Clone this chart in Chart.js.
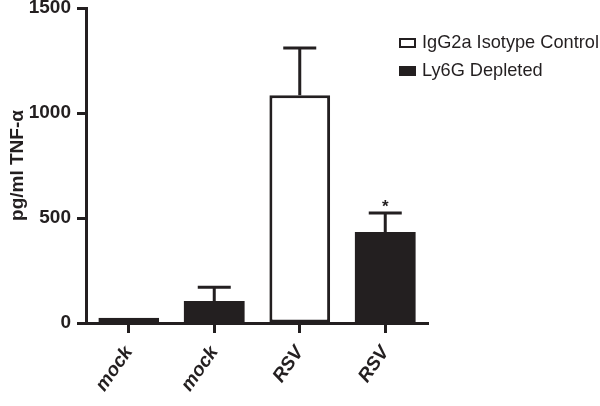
<!DOCTYPE html>
<html lang="en">
<head>
    <meta charset="UTF-8">
    <title>TNF-alpha</title>
    <script src="https://cdn.jsdelivr.net/npm/chart.js@4.4.1/dist/chart.umd.min.js"></script>
    <style>
        html, body { margin: 0; padding: 0; background: #fff; }
        #wrap { width: 600px; height: 406px; position: relative; }
    </style>
</head>
<body>
<div id="wrap"><canvas id="chart"></canvas></div>
<script>
    // data
    const groups = ["mock", "mock", "RSV", "RSV"];
    const isotype = [25, null, 1085, null];
    const depleted = [null, 105, null, 433];
    const isotypeErr = [null, null, 1310, null];   // top of the error bar
    const depletedErr = [null, 170, null, 524];
    const starred = [false, false, false, true];
    const yTicks = [0, 500, 1000, 1500];

    const FONT = "'Liberation Sans', Arial, sans-serif";
    const INK = "#231f20";

    // error bars + asterisk
    const errorBars = {
        id: "errorBars",
        afterDatasetsDraw(chart) {
            const c = chart.ctx;
            const y = chart.scales.y;
            c.save();
            c.strokeStyle = INK;
            c.lineWidth = 3;
            [[0, isotypeErr], [1, depletedErr]].forEach(([di, errs]) => {
                const meta = chart.getDatasetMeta(di);
                errs.forEach((e, i) => {
                    if (e == null) return;
                    const bar = meta.data[i];
                    const yTop = y.getPixelForValue(e);
                    c.beginPath();
                    c.moveTo(bar.x, bar.y);
                    c.lineTo(bar.x, yTop);
                    c.moveTo(bar.x - 16.5, yTop);
                    c.lineTo(bar.x + 16.5, yTop);
                    c.stroke();
                    if (starred[i]) {
                        c.fillStyle = INK;
                        c.font = "bold 17px " + FONT;
                        c.textAlign = "center";
                        c.textBaseline = "bottom";
                        c.fillText("*", bar.x, yTop + 3);
                    }
                });
            });
            c.restore();
        }
    };

    // legend in the top-right corner
    const sideLegend = {
        id: "sideLegend",
        afterDraw(chart) {
            const c = chart.ctx;
            c.save();
            const rows = [["IgG2a Isotype Control", "#ffffff"], ["Ly6G Depleted", INK]];
            rows.forEach(([txt, fill], k) => {
                const cy = 43 + k * 28;
                c.fillStyle = fill;
                c.fillRect(399, cy - 5, 17, 10);
                c.strokeStyle = INK;
                c.lineWidth = 2;
                c.strokeRect(400, cy - 4, 15, 8);
                c.fillStyle = INK;
                c.font = "18.2px " + FONT;
                c.textAlign = "left";
                c.textBaseline = "middle";
                c.fillText(txt, 422, cy);
            });
            c.restore();
        }
    };

    new Chart(document.getElementById("chart"), {
        type: "bar",
        data: {
            labels: groups,
            datasets: [
                {
                    label: "IgG2a Isotype Control",
                    data: isotype,
                    backgroundColor: "#ffffff",
                    borderColor: INK,
                    borderWidth: 3,
                    borderSkipped: false
                },
                {
                    label: "Ly6G Depleted",
                    data: depleted,
                    backgroundColor: INK,
                    borderColor: INK,
                    borderWidth: 0
                }
            ]
        },
        options: {
            responsive: true,
            maintainAspectRatio: false,
            animation: false,
            layout: { padding: { top: 0, right: 172, left: 0, bottom: 0 } },
            datasets: { bar: { grouped: false, categoryPercentage: 1, barPercentage: 0.71 } },
            plugins: {
                legend: { display: false },
                tooltip: { enabled: false }
            },
            scales: {
                x: {
                    grid: { offset: false, drawOnChartArea: false, tickLength: 10, tickWidth: 3, tickColor: INK },
                    border: { color: INK, width: 3 },
                    ticks: {
                        color: INK,
                        maxRotation: 55,
                        minRotation: 55,
                        padding: 9,
                        font: { family: FONT, size: 19, weight: "bold", style: "italic" }
                    },
                    afterFit(s) { s.height = 83; }
                },
                y: {
                    min: 0,
                    max: 1500,
                    afterBuildTicks(s) { s.ticks = yTicks.map(v => ({ value: v })); },
                    grid: { drawOnChartArea: false, tickLength: 9, tickWidth: 3, tickColor: INK },
                    border: { color: INK, width: 3 },
                    ticks: {
                        color: INK,
                        padding: 6,
                        callback: v => String(v),
                        font: { family: FONT, size: 19, weight: "bold" }
                    },
                    title: {
                        display: true,
                        text: "pg/ml TNF-α",
                        color: INK,
                        padding: { top: 6, bottom: 0 },
                        font: { family: FONT, size: 19, weight: "bold" }
                    },
                    afterFit(s) {
                        s.width = 86;
                        s.paddingTop = 8;
                        s.paddingBottom = 0;
                    }
                }
            }
        },
        plugins: [errorBars, sideLegend]
    });
</script>
</body>
</html>
